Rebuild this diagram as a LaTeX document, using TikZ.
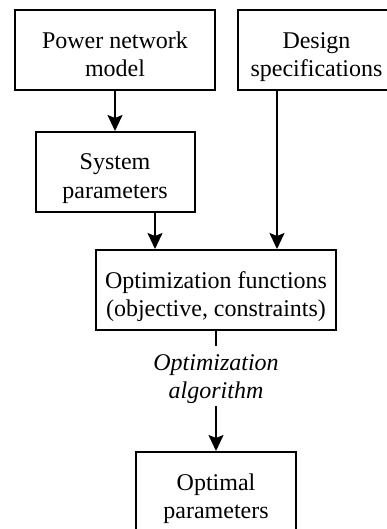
\documentclass[tikz,border=0pt]{standalone}
\usepackage{fontspec}
\setmainfont{Liberation Serif}
\usetikzlibrary{arrows.meta}
\usetikzlibrary{positioning}

\begin{document}
\begin{tikzpicture}[
			block/.style={rectangle, draw=black, line width=1pt, align=center,
					text=black, minimum height=40pt, inner sep=2pt,
					text height=29.5pt, text depth=3pt},
			algolabel/.style={align=center, font=\fontsize{12}{14.25}\selectfont\itshape,
					inner sep=2.5pt, text height=23.75pt, text depth=1pt},
			flow/.style={line width=1pt, -{Stealth[length=8pt, width=7.5pt, inset=1.5pt]}},
			every node/.style={font=\fontsize{12}{14.25}\selectfont}]
		\useasboundingbox (0pt,0pt) rectangle (193pt,-264.5pt);

		\node (powermodel) [block, minimum width=100pt] at (57.5pt,-25.25pt) {Power network\\model};

		\node (designspec) [block, minimum width=78.5pt, right=10.5pt of powermodel] {Design\\specifications};

		\node (sysparam) [block, minimum width=79.5pt, below=19.75pt of powermodel] {System\\parameters};

		\node (optfun) [block, minimum width=120pt] at (108pt,-145pt) {Optimization functions\\(objective, constraints)};

		\node (algo) [algolabel, below=7.5pt of optfun] {Optimization\\algorithm};

		\node (optimal) [block, minimum width=80pt, below=60pt of optfun] {Optimal\\parameters};

		\draw [flow] (powermodel) -- (sysparam);
		\draw [flow] ([xshift=20pt]sysparam.south) -- ([xshift=20pt]sysparam.south |- optfun.north);
		\draw [flow] ([xshift=-19.75pt]designspec.south) -- ([xshift=-19.75pt]designspec.south |- optfun.north);
		\draw [line width=1pt] (optfun) -- (algo);
		\draw [flow] (algo) -- (optimal);
	\end{tikzpicture}
\end{document}
